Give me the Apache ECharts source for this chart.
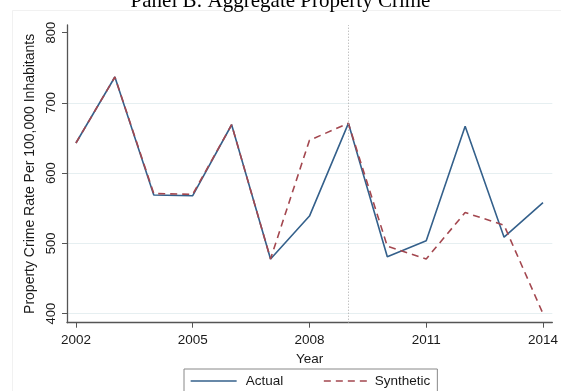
<!DOCTYPE html>
<html>
<head>
<meta charset="utf-8">
<script src="https://cdn.jsdelivr.net/npm/echarts@6/dist/echarts.min.js"></script>
<style>
  html, body { margin: 0; padding: 0; background: #fff; }
  #chart { width: 561px; height: 391px; }
</style>
</head>
<body>
<div id="chart"></div>
<script>
// Property crime rate per 100,000 inhabitants, actual vs. synthetic control
const years = [2002, 2003, 2004, 2005, 2006, 2007, 2008, 2009, 2010, 2011, 2012, 2013, 2014];
const actual = [643, 737, 569, 568, 669, 478, 539, 671, 481, 504, 667, 509, 558];
const synthetic = [643, 737, 571, 570, 669, 478, 647, 671, 496, 478, 544, 526, 400];
const xTicks = [2002, 2005, 2008, 2011, 2014];
const yTicks = [400, 500, 600, 700, 800];
const treatmentYear = 2009;

const pairs = (vals) => years.map((y, i) => [y, vals[i]]);

const sans = 'Liberation Sans, Arial, sans-serif';
const axisColor = '#555';
const actualColor = '#34608b';
const synthColor = '#a3474f';

const chart = echarts.init(document.getElementById('chart'), null, { renderer: 'canvas' });
chart.setOption({
  animation: false,
  backgroundColor: '#fff',
  title: {
    text: 'Panel B: Aggregate Property Crime',
    left: 'center',
    top: -9,
    padding: 0,
    textStyle: { fontFamily: 'Liberation Serif, Times New Roman, serif', fontSize: 21, fontWeight: 'normal', color: '#000' }
  },
  graphic: [{
    type: 'rect',
    z: -1,
    shape: { x: 12.5, y: 10.5, width: 600, height: 400 },
    style: { fill: 'none', stroke: '#f1f1f1', lineWidth: 1 }
  }],
  grid: { left: 67, right: 5, top: 25, bottom: 68.3, containLabel: false },
  xAxis: {
    type: 'value',
    min: 2001.77,
    max: 2014.24,
    name: 'Year',
    nameLocation: 'middle',
    nameGap: 21,
    nameTextStyle: { fontFamily: sans, fontSize: 13.5, color: '#1a1a1a' },
    axisLine: { show: true, onZero: false, lineStyle: { color: axisColor, width: 1.3 } },
    axisTick: { show: true, length: 5, customValues: xTicks, lineStyle: { color: axisColor } },
    axisLabel: { customValues: xTicks, margin: 11, fontFamily: sans, fontSize: 13.5, color: '#1a1a1a', formatter: (v) => String(v) },
    splitLine: { show: false }
  },
  yAxis: {
    type: 'value',
    min: 387.2,
    max: 811,
    name: 'Property Crime Rate Per 100,000 Inhabitants',
    nameLocation: 'middle',
    nameRotate: 90,
    nameGap: 23,
    nameTextStyle: { fontFamily: sans, fontSize: 14, color: '#1a1a1a' },
    axisLine: { show: true, onZero: false, lineStyle: { color: axisColor, width: 1.3 } },
    axisTick: { show: true, length: 5, customValues: yTicks, lineStyle: { color: axisColor } },
    axisLabel: { customValues: yTicks, rotate: 90, margin: 9, fontFamily: sans, fontSize: 13, color: '#1a1a1a' },
    splitLine: { show: true, lineStyle: { color: ['#e6eff1', '#e6eff1', '#e6eff1', '#e6eff1', 'transparent'], width: 1.2 } }
  },
  legend: {
    left: 184,
    top: 369,
    orient: 'horizontal',
    itemWidth: 46,
    itemHeight: 14,
    itemGap: 40,
    padding: [5, 7, 5, 6],
    borderColor: '#888',
    borderWidth: 1,
    itemStyle: { opacity: 0 },
    lineStyle: { width: 1.3 },
    textStyle: { fontFamily: sans, fontSize: 13.5, color: '#1a1a1a' },
    data: [
      { name: 'Actual', textStyle: { padding: [0, 0, 0, 4] } },
      { name: 'Synthetic' }
    ]
  },
  series: [
    {
      name: 'Actual',
      type: 'line',
      data: pairs(actual),
      symbol: 'none',
      lineStyle: { color: actualColor, width: 1.6 },
      itemStyle: { color: actualColor },
      z: 3,
      markLine: {
        silent: true,
        symbol: 'none',
        label: { show: false },
        lineStyle: { color: '#a8a8a8', type: [1, 2], width: 1 },
        data: [{ xAxis: treatmentYear }]
      }
    },
    {
      name: 'Synthetic',
      type: 'line',
      data: pairs(synthetic),
      symbol: 'none',
      lineStyle: { color: synthColor, width: 1.6, type: [7, 5] },
      itemStyle: { color: synthColor },
      z: 4
    }
  ]
});
</script>
</body>
</html>
